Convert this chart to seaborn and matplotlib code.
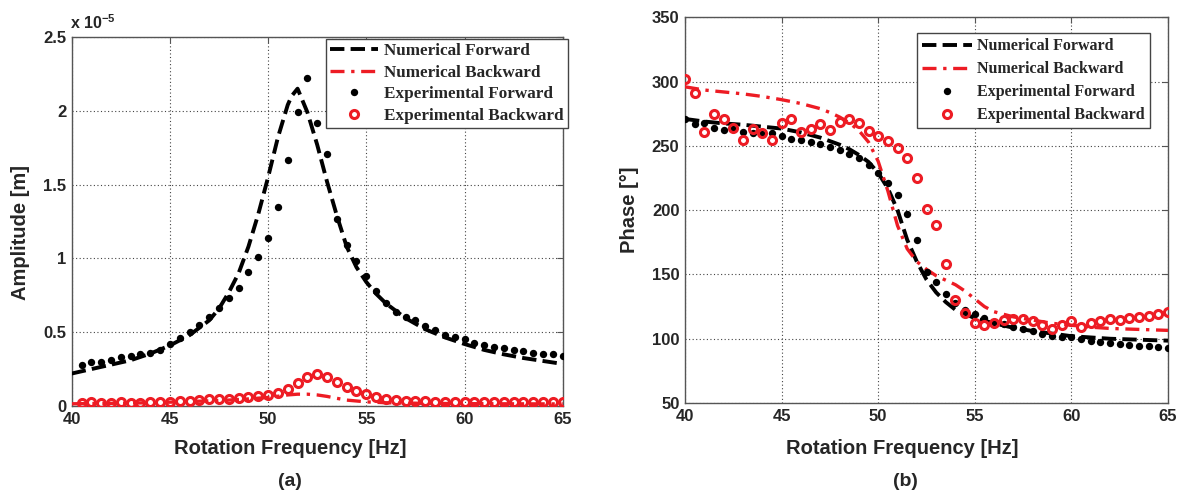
import numpy as np
import matplotlib
matplotlib.use("Agg")
import matplotlib.pyplot as plt
import seaborn as sns

# ---------------- data ----------------
# Panel (a): amplitude, in units of 1e-5 m
freq_exp_a = [40.5, 41, 41.5, 42, 42.5, 43, 43.5, 44, 44.5, 45, 45.5, 46, 46.5, 47, 47.5,
              48, 48.5, 49, 49.5, 50, 50.5, 51, 51.5, 52, 52.5, 53, 53.5, 54, 54.5, 55,
              55.5, 56, 56.5, 57, 57.5, 58, 58.5, 59, 59.5, 60, 60.5, 61, 61.5, 62, 62.5,
              63, 63.5, 64, 64.5, 65]
amp_exp_fwd = [0.28, 0.30, 0.30, 0.31, 0.33, 0.34, 0.35, 0.36, 0.38, 0.42, 0.46, 0.50, 0.55,
               0.60, 0.665, 0.73, 0.80, 0.91, 1.01, 1.14, 1.35, 1.67, 1.99, 2.22, 1.92, 1.71,
               1.27, 1.09, 0.98, 0.88, 0.78, 0.70, 0.64, 0.605, 0.58, 0.54, 0.515, 0.48, 0.47,
               0.455, 0.43, 0.415, 0.40, 0.39, 0.38, 0.37, 0.36, 0.355, 0.35, 0.337]
amp_exp_bwd = [0.02, 0.025, 0.02, 0.02, 0.025, 0.02, 0.02, 0.025, 0.03, 0.03, 0.035, 0.035,
               0.04, 0.045, 0.05, 0.05, 0.055, 0.06, 0.065, 0.075, 0.085, 0.115, 0.155, 0.195,
               0.22, 0.195, 0.165, 0.13, 0.10, 0.08, 0.06, 0.045, 0.04, 0.035, 0.035, 0.035,
               0.03, 0.03, 0.03, 0.03, 0.03, 0.03, 0.03, 0.03, 0.03, 0.03, 0.03, 0.03, 0.03, 0.03]
freq_num_fwd_a = [40, 41, 42, 43, 44, 45, 46, 47, 47.5, 48, 48.5, 49, 49.5, 50, 50.5, 51, 51.2,
                  51.5, 52, 52.5, 53, 53.5, 54, 54.5, 55, 55.5, 56, 57, 58, 59, 60, 61, 62, 63,
                  64, 65]
amp_num_fwd = [0.22, 0.25, 0.28, 0.31, 0.355, 0.41, 0.48, 0.58, 0.66, 0.77, 0.90, 1.08, 1.30,
               1.55, 1.82, 2.04, 2.10, 2.15, 1.99, 1.77, 1.52, 1.29, 1.08, 0.94, 0.84, 0.76,
               0.695, 0.595, 0.52, 0.465, 0.42, 0.38, 0.35, 0.325, 0.305, 0.285]
freq_num_bwd_a = [40, 42, 44, 46, 48, 49, 50, 50.5, 51, 51.5, 52, 52.5, 53, 53.5, 54, 55, 56,
                  58, 60, 62, 65]
amp_num_bwd = [0.015, 0.018, 0.022, 0.03, 0.04, 0.048, 0.058, 0.066, 0.075, 0.08, 0.08, 0.075,
               0.065, 0.052, 0.04, 0.028, 0.022, 0.018, 0.016, 0.015, 0.014]

# Panel (b): phase in degrees
freq_exp_b = [40, 40.5, 41, 41.5, 42, 42.5, 43, 43.5, 44, 44.5, 45, 45.5, 46, 46.5, 47, 47.5,
              48, 48.5, 49, 49.5, 50, 50.5, 51, 51.5, 52, 52.5, 53, 53.5, 54, 54.5, 55,
              55.5, 56, 56.5, 57, 57.5, 58, 58.5, 59, 59.5, 60, 60.5, 61, 61.5, 62, 62.5,
              63, 63.5, 64, 64.5, 65]
phase_exp_fwd = [271, 267, 268, 264, 262.5, 263, 261, 260, 259, 260, 257.5, 255.5, 255, 253,
                 251.5, 249.5, 247, 244, 240.5, 235.5, 229, 221.5, 212, 197, 177, 152, 144,
                 135, 128, 122, 119, 116, 113, 111.5, 109, 107.5, 106, 104, 102.5, 101.5, 101,
                 99.5, 98.5, 97.5, 97, 96, 95.5, 94.5, 94, 93.5, 93]
phase_exp_bwd = [302, 291, 261, 274.5, 271, 264, 254.5, 263, 260, 255, 268, 271, 261, 263, 267,
                 262.5, 269, 271, 267.5, 261.5, 257.5, 253.5, 248.5, 241, 225, 201, 188.5,
                 158.5, 130.5, 120, 112, 111, 112, 114.5, 115, 115, 114, 111, 107.5, 111, 113.5,
                 109.5, 112, 113.5, 115.5, 114.5, 116, 117, 117.5, 119, 121]
freq_num_fwd_b = [40, 41, 42, 43, 44, 45, 46, 47, 48, 48.5, 49, 49.5, 50, 50.5, 51, 51.5, 52,
                  52.5, 53, 53.5, 54, 55, 56, 57, 58, 59, 60, 61, 62, 63, 64, 65]
phase_num_fwd = [271, 269, 267.5, 266.5, 265, 263.5, 260.5, 256.5, 251, 247.5, 243, 237.5,
                 229, 217, 200, 177, 160, 146, 136, 128.5, 122.5, 116, 112, 108.5, 106, 104,
                 102, 101, 100, 99.5, 99, 98.5]
freq_num_bwd_b = [40, 41, 42, 43, 44, 45, 46, 47, 47.5, 48, 48.5, 49, 49.5, 50, 50.5, 51, 51.5,
                  52, 52.5, 53, 54, 54.5, 55, 55.5, 56, 57, 58, 59, 60, 61, 62, 63, 64, 65]
phase_num_bwd = [296, 293.5, 292, 290.5, 288.5, 286, 283, 279, 276, 272.5, 268, 262, 253, 238,
                 215, 188, 170, 160, 154, 149, 142, 137, 131, 125, 121, 117, 114.5, 112, 110.5,
                 109, 108, 107.5, 107, 106.5]

legend_labels = ["Numerical Forward", "Numerical Backward",
                 "Experimental Forward", "Experimental Backward"]
x_ticks = [40, 45, 50, 55, 60, 65]
amp_ticks = [0, 0.5, 1, 1.5, 2, 2.5]
amp_tick_labels = ["0", "0.5", "1", "1.5", "2", "2.5"]
phase_ticks = [50, 100, 150, 200, 250, 300, 350]

# ---------------- style ----------------
sns.set_style("white")
plt.rcParams["font.family"] = ["Liberation Sans", "DejaVu Sans"]
plt.rcParams["mathtext.fontset"] = "custom"
plt.rcParams["mathtext.rm"] = "Liberation Sans"
plt.rcParams["mathtext.bf"] = "Liberation Sans:bold"

RED = "#ED1C24"
W, H = 1182, 497
fig = plt.figure(figsize=(W / 100, H / 100), dpi=100)

def px_axes(x0, y0, x1, y1):
    return fig.add_axes([x0 / W, 1 - y1 / H, (x1 - x0) / W, (y1 - y0) / H])

ax1 = px_axes(71.7, 37, 562.7, 406)
ax2 = px_axes(685, 17.4, 1168, 403)

def draw(ax, fx_nf, y_nf, fx_nb, y_nb, fx_e, y_ef, fx_eb, y_eb):
    sns.lineplot(x=fx_nf, y=y_nf, ax=ax, color="black", lw=2.8, linestyle="--",
                 label=legend_labels[0], zorder=3)
    sns.lineplot(x=fx_nb, y=y_nb, ax=ax, color=RED, lw=2.4, dashes=(4.2, 2.0, 1.0, 2.0),
                 label=legend_labels[1], zorder=3)
    sns.lineplot(x=fx_e, y=y_ef, ax=ax, color="black", linestyle="none", marker="o",
                 markersize=5.3, markeredgewidth=0, label=legend_labels[2], zorder=4)
    sns.lineplot(x=fx_eb, y=y_eb, ax=ax, color=RED, linestyle="none", marker="o",
                 markersize=5.8, markerfacecolor="none", markeredgecolor=RED,
                 markeredgewidth=2.2, label=legend_labels[3], zorder=5)

draw(ax1, freq_num_fwd_a, amp_num_fwd, freq_num_bwd_a, amp_num_bwd,
     freq_exp_a, amp_exp_fwd, freq_exp_a, amp_exp_bwd)
draw(ax2, freq_num_fwd_b, phase_num_fwd, freq_num_bwd_b, phase_num_bwd,
     freq_exp_b, phase_exp_fwd, freq_exp_b, phase_exp_bwd)

for ax in (ax1, ax2):
    ax.set_xlim(40, 65)
    ax.set_xticks(x_ticks)
    ax.set_xticklabels([str(t) for t in x_ticks])
    ax.grid(True, color="#444444", linestyle=(0, (1, 2.2)), lw=0.8)
    ax.set_axisbelow(True)
    for s in ax.spines.values():
        s.set_color("#555555")
        s.set_linewidth(1.0)
    ax.tick_params(direction="in", length=4, width=0.8, color="#555555",
                   labelsize=12, pad=4, top=True, right=True)
    for lab in ax.get_xticklabels() + ax.get_yticklabels():
        lab.set_fontweight("bold")

ax1.set_ylim(0, 2.5)
ax1.set_yticks(amp_ticks)
ax1.set_yticklabels(amp_tick_labels, fontweight="bold")
ax2.set_ylim(50, 350)
ax2.set_yticks(phase_ticks)
ax2.set_yticklabels([str(t) for t in phase_ticks], fontweight="bold")

lab_kw = dict(fontsize=14.5, fontweight="bold")
ax1.set_xlabel("Rotation Frequency [Hz]", **lab_kw)
ax1.xaxis.set_label_coords(0.445, -0.114)
ax1.xaxis.label.set_va("center")
ax2.set_xlabel("Rotation Frequency [Hz]", **lab_kw)
ax2.xaxis.set_label_coords(0.449, -0.117)
ax2.xaxis.label.set_va("center")
ax1.set_ylabel("Amplitude [m]", **lab_kw)
ax1.yaxis.set_label_coords(-0.105, 0.47)
ax1.yaxis.label.set_va("center")
ax2.set_ylabel("Phase [°]", **lab_kw)
ax2.yaxis.set_label_coords(-0.114, 0.5)
ax2.yaxis.label.set_va("center")

fig.text(70 / W, 1 - 29 / H, r"x 10$^{\mathbf{-5}}$", fontsize=11.5, fontweight="bold",
         va="baseline", ha="left")
fig.text(290 / W, 1 - 482 / H, "(a)", fontsize=14, fontweight="bold", ha="center", va="center")
fig.text(905 / W, 1 - 482 / H, "(b)", fontsize=14, fontweight="bold", ha="center", va="center")

leg_specs = [
    # axes, anchor, font size, labelspacing, borderpad, handlelength
    (ax1, (1.011, 0.995), 12.3, 0.33, 0.25, 2.8),
    (ax2, (0.963, 0.96), 11.5, 0.44, 0.33, 3.1),
]
for ax, anchor, fs, ls, bp, hl in leg_specs:
    h, l = ax.get_legend_handles_labels()
    leg = ax.legend(h, l, loc="upper right", bbox_to_anchor=anchor,
                    prop={"family": "Liberation Serif", "weight": "bold", "size": fs},
                    frameon=True, fancybox=False, edgecolor="#444444", framealpha=1,
                    handlelength=hl, handletextpad=0.35, labelspacing=ls, borderpad=bp,
                    numpoints=1, borderaxespad=0)
    leg.get_frame().set_linewidth(1.0)

fig.savefig("out.png", dpi=100)
